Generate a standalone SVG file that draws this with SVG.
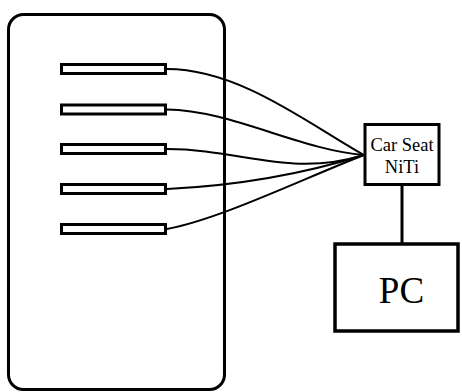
<svg xmlns="http://www.w3.org/2000/svg" width="462" height="392" viewBox="0 0 462 392">
<style>
.box{fill:#fff;stroke:#000;stroke-width:3}
.bar{fill:#fff;stroke:#000;stroke-width:3}
.wire{fill:none;stroke:#000;stroke-width:2}
.lbl{font-family:"Liberation Serif","Times New Roman",serif;fill:#000;text-anchor:middle}
</style>
<rect width="462" height="392" fill="#fff"/>
<g id="seat">
<rect class="box" x="8.5" y="14.5" width="216" height="375" rx="15" ry="15"/>
</g>
<g id="sensors">
<rect id="s1" class="bar" x="61.5" y="64.5" width="104" height="9"/>
<rect id="s2" class="bar" x="61.5" y="105" width="104" height="9"/>
<rect id="s3" class="bar" x="61.5" y="144.5" width="104" height="9"/>
<rect id="s4" class="bar" x="61.5" y="184.5" width="104" height="9"/>
<rect id="s5" class="bar" x="61.5" y="224.5" width="104" height="9"/>
</g>
<g id="connectors">
<path class="wire" d="M167,69 C240,69 310,125 364,155"/>
<path class="wire" d="M167,109.5 C230,110 300,150 364,155"/>
<path class="wire" d="M167,149 C240,149 290,178 364,155"/>
<path class="wire" d="M167,189 C230,186 300,175 364,155"/>
<path class="wire" d="M167,229 C220,219 300,180 364,155"/>
<line x1="402" y1="185" x2="402" y2="244" stroke="#000" stroke-width="3"/>
</g>
<g id="niti">
<rect class="box" x="365" y="124.5" width="74" height="60"/>
<text class="lbl" x="402" y="151" font-size="18.5">Car Seat</text>
<text class="lbl" x="402" y="172.5" font-size="18.5">NiTi</text>
</g>
<g id="pc">
<rect class="box" x="335" y="244" width="123" height="87" style="stroke-width:3.5"/>
<text class="lbl" x="401.5" y="302.5" font-size="37">PC</text>
</g>
</svg>
